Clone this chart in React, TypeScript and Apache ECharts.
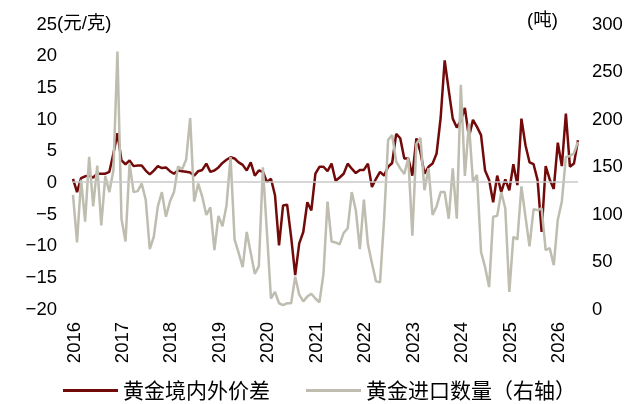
import React, { useEffect, useRef } from "react";
import * as echarts from "echarts";

const startYear = 2016;
const monthCount = 126;
const months: string[] = [];
for (let i = 0; i < monthCount; i++) {
  const y = startYear + Math.floor(i / 12);
  const m = (i % 12) + 1;
  months.push(`${y}-${m < 10 ? "0" + m : m}`);
}

const priceDiff: number[] = [
  0.4, -1.7, 0.5, 0.8, 0.9, 0.6, 1.2, 1.2, 1.2, 1.5, 4.4, 7.6,
  3.3, 2.7, 3.3, 2.4, 2.5, 2.5, 1.7, 1.1, 1.7, 2.4, 2.1, 2.2,
  1.6, 1.2, 1.7, 1.6, 1.5, 1.4, 0.9, 1.6, 1.8, 2.8, 1.5, 1.7,
  2.2, 2.9, 3.4, 3.8, 3.6, 3.0, 2.6, 1.7, 3.0, 0.9, 1.7, 1.5,
  -0.1, 0.4, -2.2, -10.1, -3.8, -3.7, -8.8, -14.8, -9.8, -8.0, -3.3, -4.6,
  1.2, 2.3, 2.3, 1.6, 2.8, 0.1, 0.6, 1.2, 2.8, 2.0, 1.3, 1.8,
  1.8, 2.8, -0.9, 0.4, 1.5, 0.9, 2.3, 2.9, 7.5, 6.8, 3.6, 3.6,
  0.9, 6.8, 4.6, 1.2, 2.3, 2.8, 4.4, 10.0, 19.1, 14.4, 9.9, 8.5,
  9.6, 11.6, 7.0, 9.7, 8.6, 7.3, 1.7, 0.2, -3.3, 0.9, -1.7, 0.3,
  -1.4, 2.7, -0.6, 9.9, 5.7, 3.0, 2.7, 0.2, -8.0, 2.4, 0.3, -1.2,
  6.1, 2.4, 10.7, 2.3, 2.8, 6.5,
];

const importTons: number[] = [
  119, 69, 135, 91, 159, 107, 150, 87, 139, 122, 145, 270,
  94, 70, 152, 122, 123, 131, 114, 62, 75, 107, 122, 96,
  112, 122, 149, 146, 156, 200, 112, 131, 117, 98, 106, 61,
  97, 86, 108, 159, 72, 58, 43, 80, 58, 36, 44, 148,
  80, 10, 17, 5, 3, 5, 5, 33, 14, 7, 12, 15,
  10, 6, 36, 112, 70, 69, 67, 79, 84, 122, 103, 62,
  114, 67, 47, 28, 27, 93, 177, 182, 154, 147, 141, 158,
  76, 173, 179, 124, 147, 98, 107, 122, 122, 94, 147, 94,
  235, 139, 194, 133, 140, 59, 43, 22, 96, 97, 122, 105,
  17, 75, 72, 128, 96, 65, 104, 103, 105, 61, 63, 45,
  93, 112, 159, 160, 163, 175,
];

const seriesNames = ["黄金境内外价差", "黄金进口数量（右轴）"];
const leftUnit = "(元/克)";
const rightUnit = "(吨)";

const FONT = "'Liberation Sans', Arial, 'Noto Sans CJK SC', sans-serif";
const RED = "#720a0a";
const GRAY = "#bebdb0";

export default function App() {
  const ref = useRef<HTMLDivElement>(null);
  useEffect(() => {
    if (!ref.current) return;
    const chart = echarts.init(ref.current, undefined, { renderer: "svg" });
    const fmt = (v: number) => (v < 0 ? "\u2212" + Math.abs(v) : String(v));
    chart.setOption({
      animation: false,
      textStyle: { fontFamily: FONT },
      grid: { left: 73, right: 59, top: 23, bottom: 96, containLabel: false },
      xAxis: {
        type: "category",
        data: months,
        boundaryGap: false,
        axisLine: { show: false },
        axisTick: { show: false },
        splitLine: { show: false },
        axisLabel: {
          rotate: 90,
          margin: 14,
          fontSize: 18.5,
          color: "#000",
          fontFamily: FONT,
          interval: (index: number) => index % 12 === 0,
          formatter: (v: string) => v.slice(0, 4),
        },
      },
      yAxis: [
        {
          type: "value",
          min: -20,
          max: 25,
          interval: 5,
          axisLine: { show: false },
          axisTick: { show: false },
          splitLine: { show: false },
          axisLabel: { fontSize: 18.5, color: "#000", margin: 16, fontFamily: FONT, formatter: fmt },
        },
        {
          type: "value",
          min: 0,
          max: 300,
          interval: 50,
          position: "right",
          axisLine: { show: false },
          axisTick: { show: false },
          splitLine: { show: false },
          axisLabel: { fontSize: 18.5, color: "#000", margin: 14, fontFamily: FONT },
        },
      ],
      legend: {
        top: 375,
        left: 58,
        icon: "rect",
        itemWidth: 55,
        itemHeight: 3,
        itemGap: 36,
        textStyle: { fontSize: 21, color: "#000", fontFamily: FONT },
        data: seriesNames,
      },
      graphic: [
        {
          type: "text",
          left: 57,
          top: 13,
          style: { text: leftUnit, fontSize: 18.5, fill: "#000", fontFamily: FONT },
        },
        {
          type: "text",
          left: 527,
          top: 10,
          style: { text: rightUnit, fontSize: 18.5, fill: "#000", fontFamily: FONT },
        },
      ],
      series: [
        {
          name: seriesNames[0],
          type: "line",
          yAxisIndex: 0,
          data: priceDiff,
          symbol: "none",
          lineStyle: { color: RED, width: 2.5 },
          itemStyle: { color: RED },
          markLine: {
            silent: true,
            symbol: "none",
            label: { show: false },
            lineStyle: { color: "#c8c8c8", width: 1.5, type: "solid" },
            data: [{ yAxis: 0 }],
          },
          z: 2,
        },
        {
          name: seriesNames[1],
          type: "line",
          yAxisIndex: 1,
          data: importTons,
          symbol: "none",
          lineStyle: { color: GRAY, width: 2.5 },
          itemStyle: { color: GRAY },
          z: 3,
        },
      ],
    });
    return () => chart.dispose();
  }, []);
  return (
    <div
      ref={ref}
      style={{ position: "fixed", left: 0, top: 0, width: 637, height: 404 }}
    />
  );
}
